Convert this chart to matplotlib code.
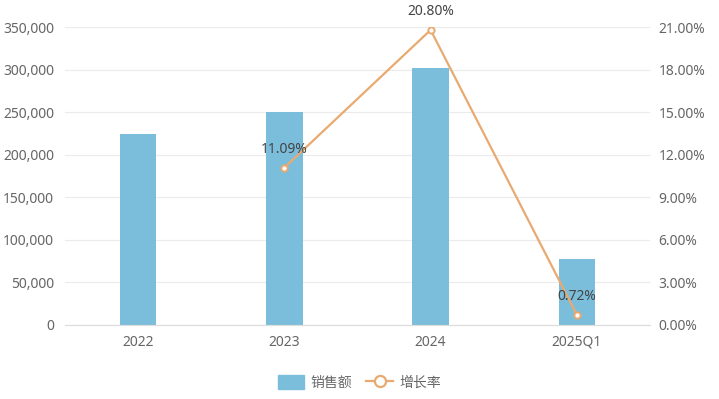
import matplotlib
matplotlib.use("Agg")
import matplotlib.pyplot as plt
from matplotlib.ticker import FuncFormatter, MultipleLocator
from matplotlib.lines import Line2D
from matplotlib.patches import Patch

plt.rcParams['font.family'] = ['Noto Sans', 'Noto Sans CJK SC', 'DejaVu Sans']

# data
categories = ['2022', '2023', '2024', '2025Q1']
sales = [225000, 249800, 302000, 77300]
growth = [None, 11.09, 20.80, 0.72]

bar_color = '#7bbedb'
line_color = '#e8aa70'
grid_color = '#ebebeb'
text_color = '#666666'

fig = plt.figure(figsize=(7.19, 3.99), dpi=100)
ax = fig.add_axes([0.0904, 0.1855, 0.8136, 0.7465])
ax2 = ax.twinx()

x = list(range(len(categories)))
ax.bar(x, sales, width=0.25, color=bar_color, zorder=2)
ax.set_xlim(-0.5, len(categories) - 0.5)
ax.set_ylim(0, 350000)
ax.yaxis.set_major_locator(MultipleLocator(50000))
ax.yaxis.set_major_formatter(FuncFormatter(lambda v, p: f'{int(v):,}'))
ax.grid(axis='y', color=grid_color, linewidth=0.8, zorder=0)
ax.set_axisbelow(True)
ax.set_xticks(x)
ax.set_xticklabels(categories)

# growth line (no value for 2022)
gx = [i for i, g in enumerate(growth) if g is not None]
gy = [g for g in growth if g is not None]
ax2.plot(gx, gy, color=line_color, linewidth=1.6, marker='o', markersize=4.5,
         markerfacecolor='white', markeredgecolor=line_color, markeredgewidth=1.4, zorder=3)
for xi, yi in zip(gx, gy):
    ax2.annotate(f'{yi:.2f}%', (xi, yi), xytext=(0, 8), textcoords='offset points',
                 ha='center', va='bottom', fontsize=10, color='#444444')
ax2.set_ylim(0, 21)
ax2.yaxis.set_major_locator(MultipleLocator(3))
ax2.yaxis.set_major_formatter(FuncFormatter(lambda v, p: f'{v:.2f}%'))

for a in (ax, ax2):
    for s in ('top', 'left', 'right'):
        a.spines[s].set_visible(False)
    a.spines['bottom'].set_color('#dddddd')
    a.tick_params(length=0, labelsize=10, labelcolor=text_color)
ax.tick_params(axis='x', pad=7)
ax.tick_params(axis='y', pad=8)
ax2.tick_params(axis='y', pad=6)

handles = [Patch(facecolor=bar_color, edgecolor=bar_color, label='销售额'),
           Line2D([0], [0], color=line_color, linewidth=1.6, marker='o', markersize=8,
                  markerfacecolor='white', markeredgecolor=line_color, markeredgewidth=1.6,
                  label='增长率')]
fig.legend(handles=handles, loc='center', bbox_to_anchor=(0.5, 0.04), ncol=2, frameon=False,
           fontsize=10, handlelength=1.9, handleheight=1.2, columnspacing=1.0,
           handletextpad=0.5, labelcolor=text_color)

fig.savefig('out.png', dpi=100)
